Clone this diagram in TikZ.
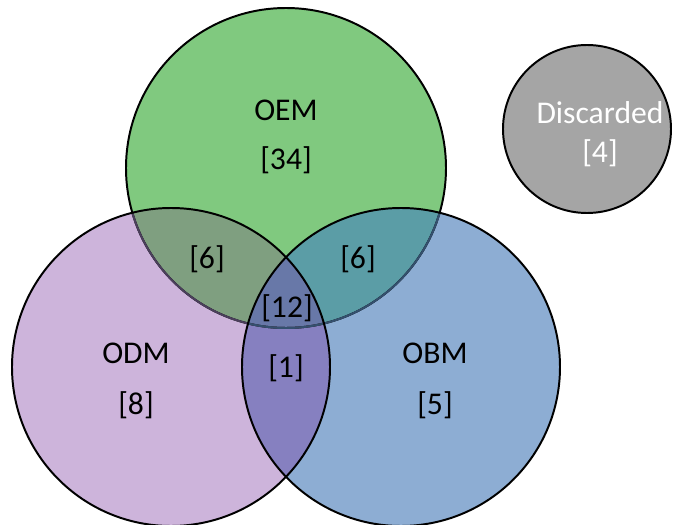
\documentclass[tikz,border=0pt]{standalone}
\usepackage{fontspec}
\setmainfont{Carlito}
\usepackage{tikz}
\definecolor{oemgreen}{HTML}{80C97F}
\definecolor{odmpurple}{HTML}{CDB4DB}
\definecolor{obmblue}{HTML}{8DADD3}
\definecolor{discgray}{HTML}{A5A5A5}
\definecolor{oemodm}{HTML}{7F9F80}
\definecolor{oemobm}{HTML}{5B9DA6}
\definecolor{odmobm}{HTML}{8680C0}
\definecolor{allthree}{HTML}{6878A8}
\definecolor{arcpurple}{HTML}{4B3F5C}
\definecolor{arcblue}{HTML}{34506E}
\tikzset{
   outline/.style={draw=black, line width=1.4pt},
   label/.style={font=\fontsize{22.5}{27}\selectfont, inner sep=0pt},
   }

\begin{document}
\begin{tikzpicture}
            \useasboundingbox (0,0) rectangle (17.25,13.125);
            \coordinate (oem) at (7.15,8.925);
            \coordinate (odm) at (4.275,3.95);
            \coordinate (obm) at (10.025,3.95);
            \coordinate (disc) at (14.675,9.9);
            % plain fills
            \fill[oemgreen] (oem) circle (4);
            \fill[odmpurple] (odm) circle (3.975);
            \fill[obmblue] (obm) circle (3.975);
            % overlaps
            \begin{scope}
               \clip (oem) circle (4);
               \fill[oemodm] (odm) circle (3.975);
               \fill[oemobm] (obm) circle (3.975);
            \end{scope}
            \begin{scope}
               \clip (odm) circle (3.975);
               \fill[odmobm] (obm) circle (3.975);
               \clip (oem) circle (4);
               \fill[allthree] (obm) circle (3.975);
            \end{scope}
            % outlines
            \draw[outline] (oem) circle (4);
            \begin{scope}
               \clip (odm) circle (3.975);
               \draw[outline, draw=arcpurple] (oem) circle (4);
            \end{scope}
            \begin{scope}
               \clip (obm) circle (3.975);
               \draw[outline, draw=arcblue] (oem) circle (4);
            \end{scope}
            \draw[outline] (obm) circle (3.975);
            \draw[outline] (odm) circle (3.975);
            \filldraw[discgray, outline] (disc) circle (2.1);
            % texts
            \node[label] (oemname) at (7.15,10.375) {OEM};
            \node[label] (oemcount) at (7.15,9.125) {[34]};
            \node[label] (oemodmcount) at (5.175,6.65) {[6]};
            \node[label] (oemobmcount) at (8.95,6.65) {[6]};
            \node[label] (allcount) at (7.175,5.425) {[12]};
            \node[label] (odmobmcount) at (7.15,3.925) {[1]};
            \node[label] (odmname) at (3.4,4.3) {ODM};
            \node[label] (odmcount) at (3.4,3.0) {[8]};
            \node[label] (obmname) at (10.875,4.3) {OBM};
            \node[label] (obmcount) at (10.875,3.0) {[5]};
            \node[label, text=white] (discname) at (15.0,10.3) {Discarded};
            \node[label, text=white] (disccount) at (15.0,9.3) {[4]};
        \end{tikzpicture}
\end{document}
